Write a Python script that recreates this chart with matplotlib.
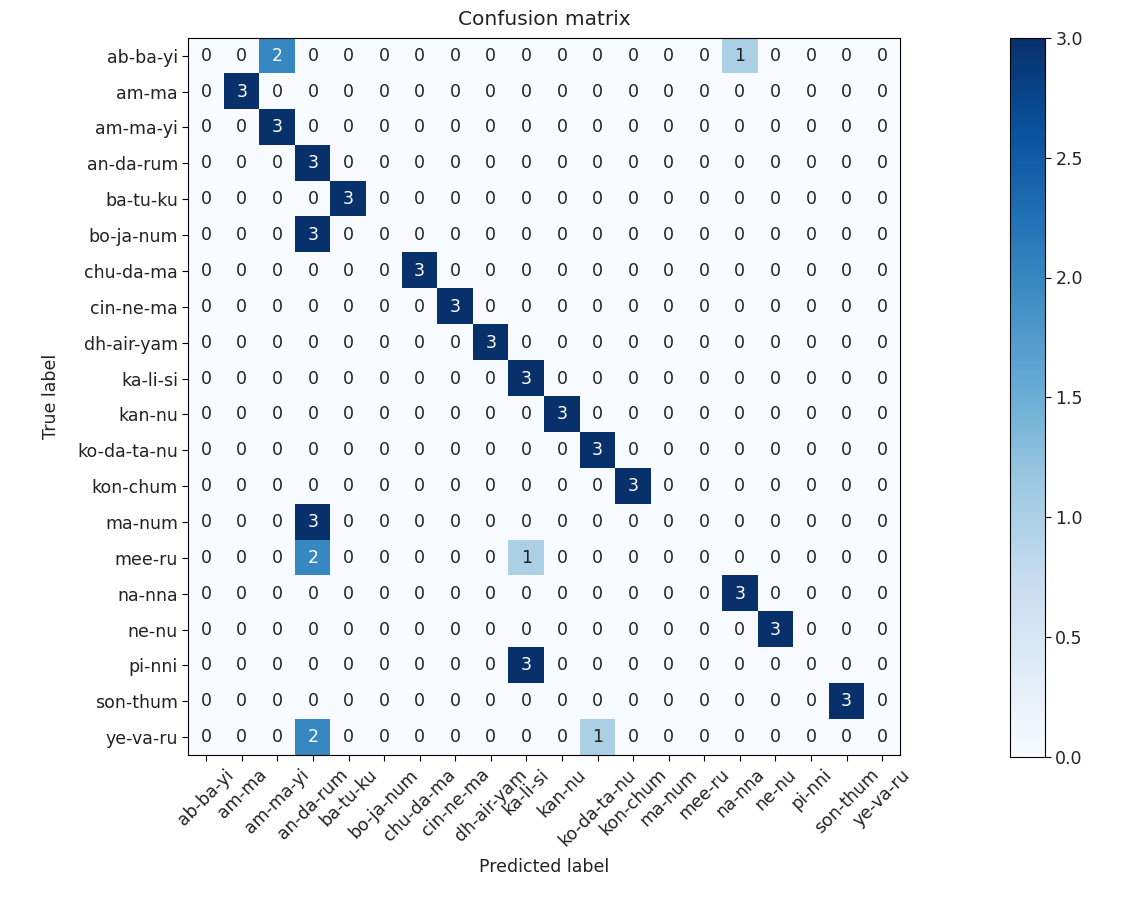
import numpy as np
import matplotlib
matplotlib.use("Agg")
import matplotlib.pyplot as plt

clases = ["ab-ba-yi", "am-ma", "am-ma-yi", "an-da-rum", "ba-tu-ku", "bo-ja-num",
          "chu-da-ma", "cin-ne-ma", "dh-air-yam", "ka-li-si", "kan-nu",
          "ko-da-ta-nu", "kon-chum", "ma-num", "mee-ru", "na-nna", "ne-nu",
          "pi-nni", "son-thum", "ye-va-ru"]

# (fila, columna, valor) de las celdas distintas de cero
celdas_fila = [0, 0, 1, 2, 3, 4, 5, 6, 7, 8, 9, 10, 11, 12, 13, 14, 14, 15, 16, 17, 18, 19, 19]
celdas_col  = [2, 15, 1, 2, 3, 4, 3, 6, 7, 8, 9, 10, 11, 12, 3, 3, 9, 15, 16, 9, 18, 3, 11]
celdas_val  = [2, 1, 3, 3, 3, 3, 3, 3, 3, 3, 3, 3, 3, 3, 3, 2, 1, 3, 3, 3, 3, 2, 1]

n = len(clases)
cm = np.zeros((n, n), dtype=int)
for f, c, v in zip(celdas_fila, celdas_col, celdas_val):
    cm[f, c] = v

fs = 12.5

fig = plt.figure(figsize=(11.42, 9.0), dpi=100)
ax = fig.add_axes([0.165, 0.161, 0.623, 0.797])
im = ax.imshow(cm, interpolation="nearest", cmap=plt.cm.Blues, aspect="auto")
ax.set_title("Confusion matrix", fontsize=14.5, color="#222222", pad=9)

cax = fig.add_axes([0.884, 0.159, 0.031, 0.799])
cb = fig.colorbar(im, cax=cax)
cb.ax.tick_params(labelsize=fs, labelcolor="#222222", length=4)

marcas = np.arange(n)
ax.set_xticks(marcas)
ax.set_xticklabels(clases, rotation=45, fontsize=fs, color="#222222")
ax.set_yticks(marcas)
ax.set_yticklabels(clases, fontsize=fs, color="#222222")
ax.tick_params(length=4)

umbral = cm.max() / 2.
for i in range(n):
    for j in range(n):
        ax.text(j, i, format(cm[i, j], "d"), ha="center", va="center",
                fontsize=fs, color="white" if cm[i, j] > umbral else "#222222")

ax.set_ylabel("True label", fontsize=fs, color="#222222", labelpad=12)
ax.set_xlabel("Predicted label", fontsize=fs, color="#222222", labelpad=6)

fig.savefig("out.png", dpi=100)
